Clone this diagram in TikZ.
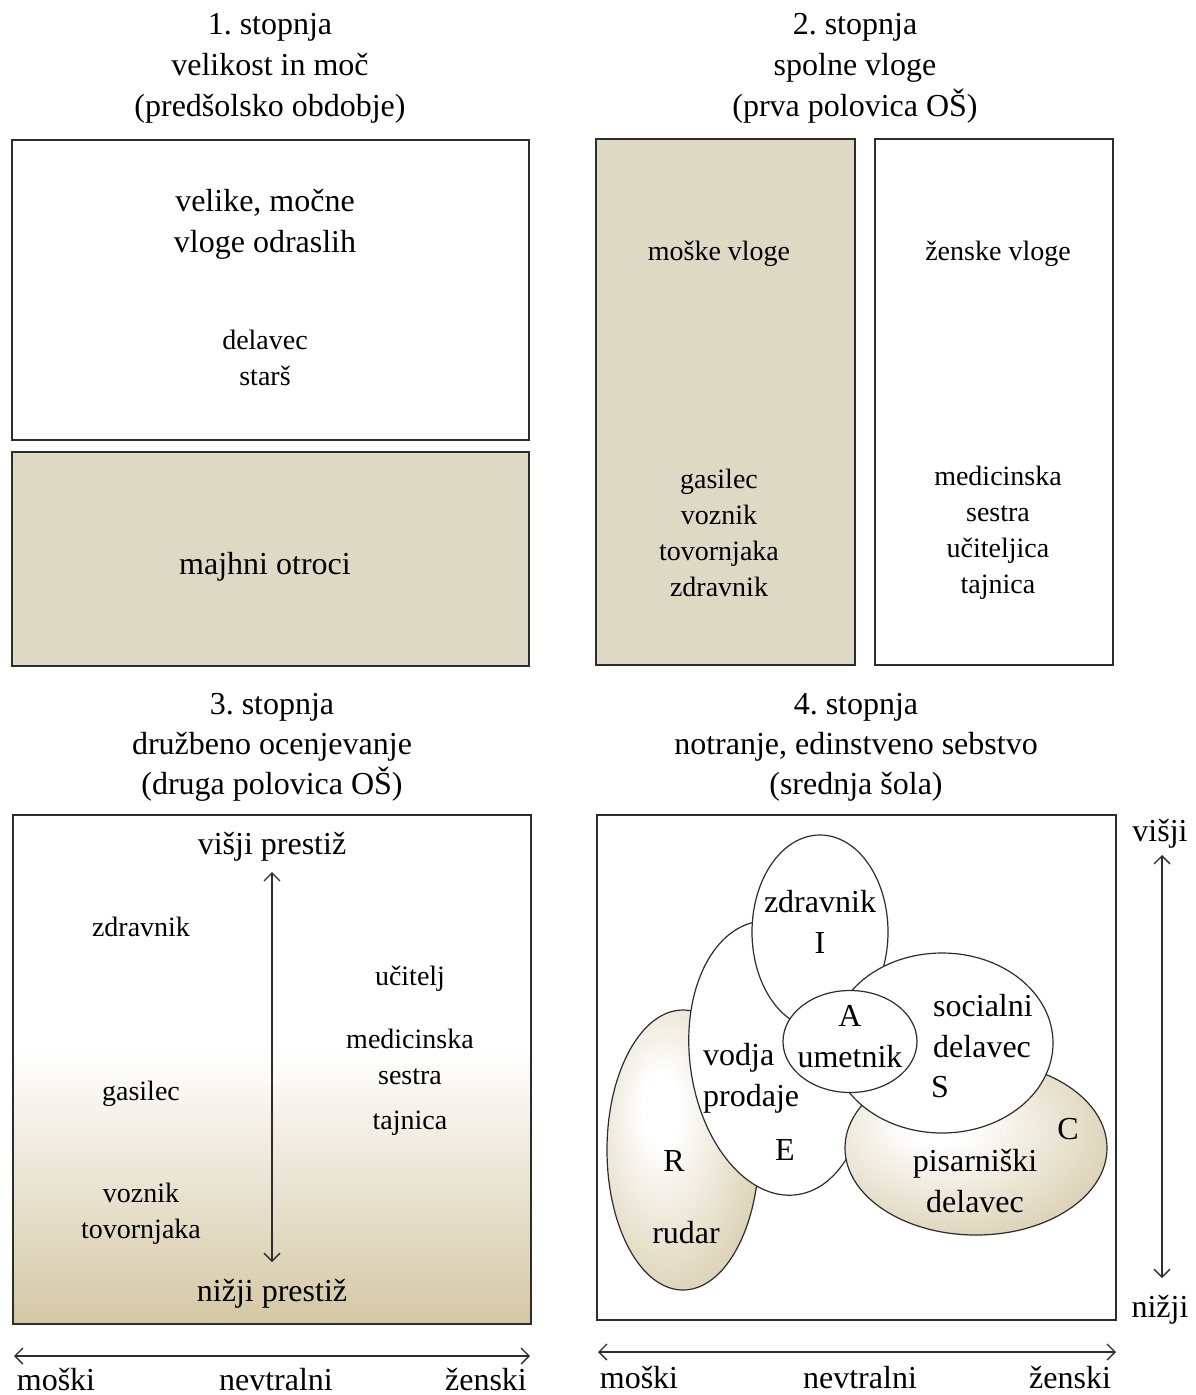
\documentclass[tikz,border=0pt]{standalone}
\usepackage{fontspec}
\setmainfont{Liberation Serif}
\usetikzlibrary{arrows.meta}
\frenchspacing

\definecolor{tanfill}{RGB}{221,217,196}
\definecolor{tandeep}{RGB}{212,199,164}
\definecolor{tanglowc}{RGB}{214,203,170}
\definecolor{edge}{RGB}{45,45,45}

% white upper part fading into tan towards the bottom
\pgfdeclareverticalshading{prestige}{100bp}{color(0bp)=(tandeep); color(25bp)=(tandeep); color(52bp)=(white); color(100bp)=(white)}
% radial glow lit from the upper left
\pgfdeclareradialshading{tanglow}{\pgfpoint{-8bp}{8bp}}{color(0bp)=(white); color(6bp)=(white); color(36bp)=(tanglowc); color(80bp)=(tanglowc)}

\tikzset{
  panel/.style={draw=edge, line width=1.3pt, inner sep=0pt},
  tanbox/.style={fill=tanfill},
  big/.style={font=\fontsize{32}{41}\selectfont, align=center, inner sep=0pt, yshift=-3.5pt},
  bigt/.style={font=\fontsize{32}{40}\selectfont, align=center, inner sep=0pt, yshift=-3.5pt},
  small/.style={font=\fontsize{28}{36}\selectfont, align=center, inner sep=0pt, yshift=-1.5pt},
  inner/.style={font=\fontsize{32}{41}\selectfont, align=center, inner sep=0pt},
  axislabel/.style={font=\fontsize{32}{41}\selectfont, inner sep=0pt, anchor=base},
  blob/.style={draw=edge, line width=1.2pt},
  twoway/.style={draw=edge, line width=1.3pt,
    {Straight Barb[length=8pt,width=16pt]}-{Straight Barb[length=8pt,width=16pt]}},
}

\begin{document}
\begin{tikzpicture}[x=1pt,y=-1pt]
\useasboundingbox (0,0) rectangle (1195,1395);

% ---------- stage 1 ----------
\node[big] (t1) at (270,65) {1. stopnja\\velikost in moč\\(predšolsko obdobje)};
\node[panel, fill=white, minimum width=517pt, minimum height=300pt] (p1a) at (270.5,290) {};
\node[panel, tanbox, minimum width=517pt, minimum height=214pt] (p1b) at (270.5,559) {};
\node[big] (adults) at (265,220.5) {velike, močne\\vloge odraslih};
\node[small] (adultex) at (265,356) {delavec\\starš};
\node[big] (kids) at (265,563) {majhni otroci};

% ---------- stage 2 ----------
\node[big] (t2) at (855,65) {2. stopnja\\spolne vloge\\(prva polovica OŠ)};
\node[panel, tanbox, minimum width=259pt, minimum height=526pt] (p2m) at (725.5,402) {};
\node[panel, fill=white, minimum width=238pt, minimum height=526pt] (p2f) at (994,402) {};
\node[small] (male) at (719,252) {moške vloge};
\node[small] (female) at (998,252) {ženske vloge};
\node[small] (malex) at (719,531) {gasilec\\voznik\\tovornjaka\\zdravnik};
\node[small] (femalex) at (998,531) {medicinska\\sestra\\učiteljica\\tajnica};

% ---------- stage 3 ----------
\node[bigt] (t3) at (272,744) {3. stopnja\\družbeno ocenjevanje\\(druga polovica OŠ)};
\node[panel, shading=prestige, minimum width=518pt, minimum height=509pt] (p3) at (272,1069.5) {};
\node[big] (hi3) at (272,843) {višji prestiž};
\node[big] (lo3) at (272,1290) {nižji prestiž};
\coordinate (a3top) at (272,872);
\coordinate (a3bot) at (272,1262);
\draw[twoway] (a3top) -- (a3bot);
\node[small] (s3a) at (141,925) {zdravnik};
\node[small] (s3b) at (141,1092) {gasilec};
\node[small] (s3c) at (141,1212) {voznik\\tovornjaka};
\node[small] (s3d) at (410,977) {učitelj};
\node[small] (s3e) at (410,1055.5) {medicinska\\sestra};
\node[small] (s3f) at (410,1122) {tajnica};

% ---------- stage 4 ----------
\node[bigt] (t4) at (856,744) {4. stopnja\\notranje, edinstveno sebstvo\\(srednja šola)};
\node[panel, fill=white, minimum width=519pt, minimum height=505pt] (p4) at (856.5,1067.5) {};

% overlapping interest areas, back to front
\path[blob, shading=tanglow] (683,1150) ellipse [x radius=76, y radius=140];
\path[blob, fill=white] (778,1058) ellipse [x radius=88, y radius=138, rotate=8];
\path[blob, fill=white] (820,932) ellipse [x radius=68, y radius=97];
\path[blob, shading=tanglow] (976,1148) ellipse [x radius=131, y radius=87];
\path[blob, fill=white] (942,1043) ellipse [x radius=111, y radius=90];
\path[blob, fill=white] (850,1041.5) ellipse [x radius=67, y radius=51];

\node[inner] (ri) at (820,922) {zdravnik\\I};
\node[inner] (ra) at (850,1037) {A\\umetnik};
\node[inner, align=left, anchor=west] (re) at (703,1078) {vodja\\prodaje};
\node[inner] (rel) at (785,1150) {E};
\node[inner, align=left, anchor=west] (rs) at (933,1026) {socialni\\delavec};
\node[inner] (rsl) at (940,1087) {S};
\node[inner] (rcl) at (1068,1129) {C};
\node[inner] (rc) at (975,1181.5) {pisarniški\\delavec};
\node[inner] (rrl) at (674,1161) {R};
\node[inner] (rr) at (686,1233) {rudar};

\node[big] (hi4) at (1160,830) {višji};
\node[big] (lo4) at (1160,1306) {nižji};
\coordinate (a4top) at (1162,855);
\coordinate (a4bot) at (1162,1278);
\draw[twoway] (a4top) -- (a4bot);

% ---------- gender axes ----------
\coordinate (g3l) at (14,1356);
\coordinate (g3r) at (530,1356);
\draw[twoway] (g3l) -- (g3r);
\node[axislabel] (m3) at (56,1390) {moški};
\node[axislabel] (n3) at (276,1390) {nevtralni};
\node[axislabel] (f3) at (486,1390) {ženski};

\coordinate (g4l) at (598,1352);
\coordinate (g4r) at (1116,1352);
\draw[twoway] (g4l) -- (g4r);
\node[axislabel] (m4) at (639,1388) {moški};
\node[axislabel] (n4) at (860,1388) {nevtralni};
\node[axislabel] (f4) at (1070,1388) {ženski};
\end{tikzpicture}
\end{document}
